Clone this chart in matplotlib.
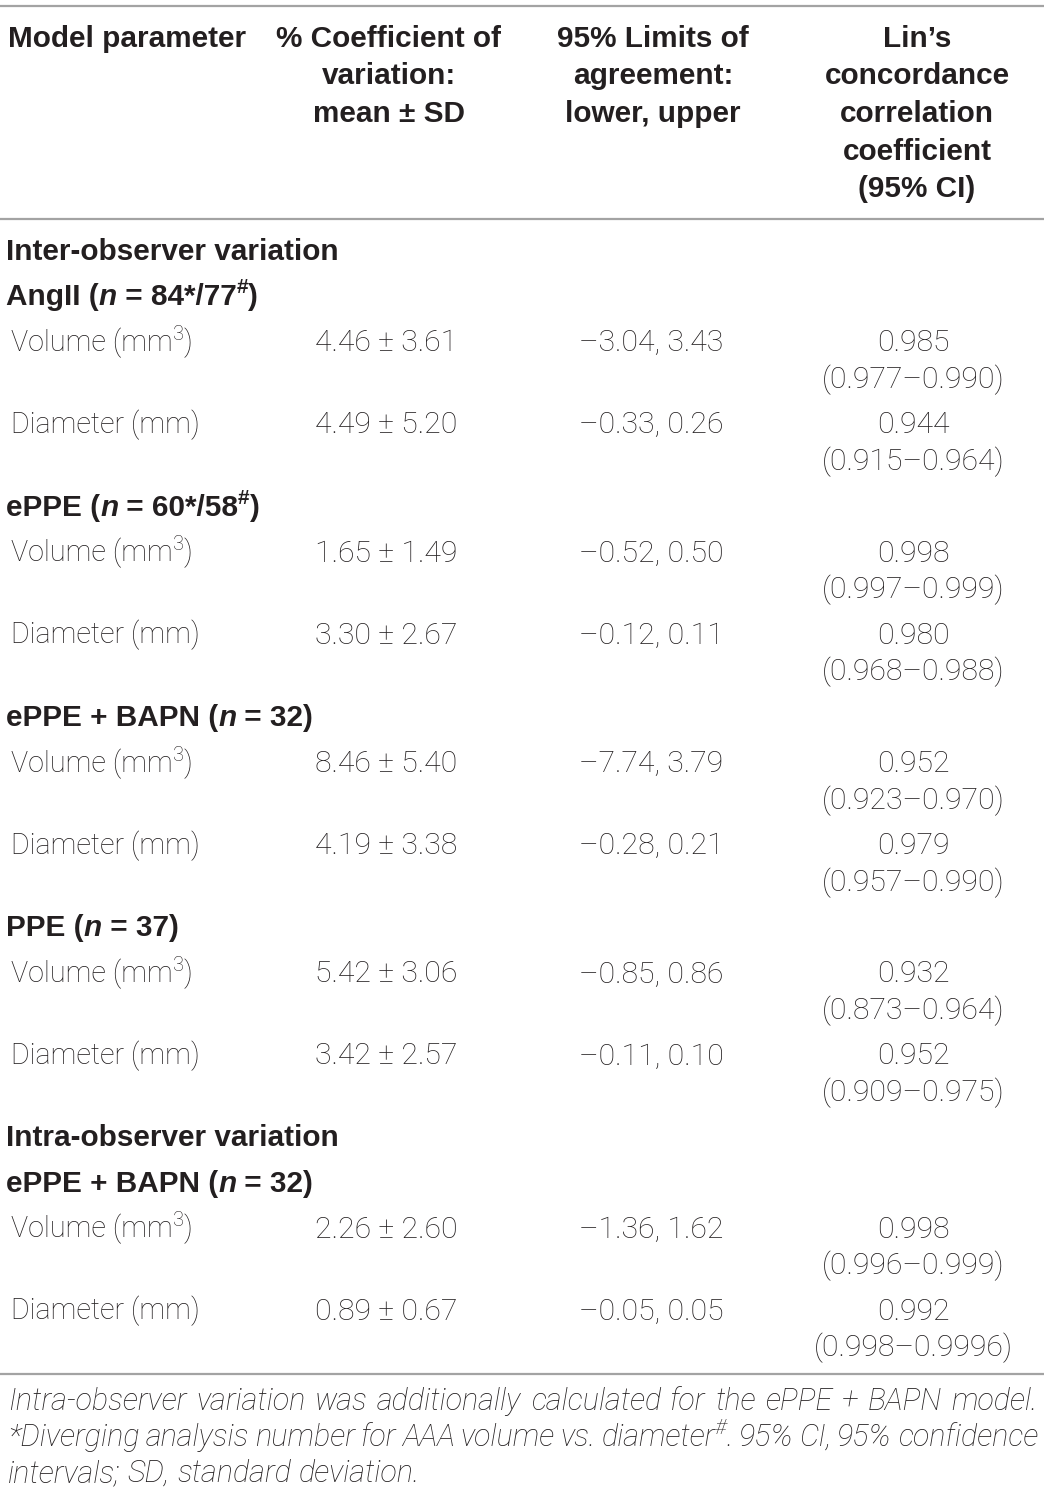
import matplotlib
matplotlib.use("Agg")
import matplotlib.pyplot as plt

# ---------------- data ----------------
col_headers = [
    ["Model parameter"],
    ["% Coefficient of", "variation:", "mean \u00b1 SD"],
    ["95% Limits of", "agreement:", "lower, upper"],
    ["Lin\u2019s", "concordance", "correlation", "coefficient", "(95% CI)"],
]
section_titles = ["Inter-observer variation", "Intra-observer variation"]
group_names = ["AngII", "ePPE", "ePPE + BAPN", "PPE", "ePPE + BAPN"]
group_n = ["84*/77", "60*/58", "32", "37", "32"]
group_n_sup = ["#", "#", "", "", ""]
group_section = [0, 0, 0, 0, 1]
param_names = ["Volume", "Diameter"]
param_units = ["mm", "mm"]
param_unit_sup = ["3", ""]
cv_mean = ["4.46", "4.49", "1.65", "3.30", "8.46", "4.19", "5.42", "3.42", "2.26", "0.89"]
cv_sd = ["3.61", "5.20", "1.49", "2.67", "5.40", "3.38", "3.06", "2.57", "2.60", "0.67"]
loa_lower = ["\u20133.04", "\u20130.33", "\u20130.52", "\u20130.12", "\u20137.74",
             "\u20130.28", "\u20130.85", "\u20130.11", "\u20131.36", "\u20130.05"]
loa_upper = ["3.43", "0.26", "0.50", "0.11", "3.79", "0.21", "0.86", "0.10", "1.62", "0.05"]
ccc = ["0.985", "0.944", "0.998", "0.980", "0.952", "0.979", "0.932", "0.952", "0.998", "0.992"]
ccc_lo = ["0.977", "0.915", "0.997", "0.968", "0.923", "0.957", "0.873", "0.909", "0.996", "0.998"]
ccc_hi = ["0.990", "0.964", "0.999", "0.988", "0.970", "0.990", "0.964", "0.975", "0.999", "0.9996"]
footnote_lines = [
    [("Intra-observer variation was additionally calculated for the ePPE + BAPN model.", False)],
    [("*Diverging analysis number for AAA volume vs. diameter", False), ("#", True),
     (". 95% CI, 95% confidence", False)],
    [("intervals; SD, standard deviation.", False)],
]

# ---------------- styling ----------------
W, H = 1044, 1493
FAM = ["Roboto", "Liberation Sans", "DejaVu Sans"]
BFAM = ["Liberation Sans", "DejaVu Sans"]
FSL = 20.6     # body labels (light)
FSN = 21.8     # numbers (light)
FSF = 22.0     # footnote (light italic)
FSB = 21.4     # bold headers
TXT = "#231f20"
RULE = "#a3a3a3"

fig = plt.figure(figsize=(W / 100, H / 100), dpi=100)
ax = fig.add_axes([0, 0, 1, 1])
ax.set_xlim(0, W)
ax.set_ylim(H, 0)
ax.axis("off")
renderer = fig.canvas.get_renderer()


def style_kw(bold=False, italic=False):
    if bold:
        return dict(family=BFAM, fontweight="bold", fontstyle="italic" if italic else "normal")
    return dict(family=FAM, fontweight="light", fontstyle="italic" if italic else "normal")


def width_of(t):
    return t.get_window_extent(renderer).width


def runs(x, y, parts, fs):
    """parts: list of (text, bold, italic, sup). Left-aligned at baseline y."""
    cx = x
    for text, bold, italic, sup in parts:
        if not text:
            continue
        size = fs * 0.70 if sup else fs
        yy = y - fs * 0.55 if sup else y
        t = ax.text(cx, yy, text, fontsize=size, color=TXT, ha="left", va="baseline",
                    **style_kw(bold, italic))
        cx += width_of(t)
    return cx


def centered(xc, y, text, bold=False):
    ax.text(xc, y, text, fontsize=FSB if bold else FSN, color=TXT, ha="center",
            va="baseline", **style_kw(bold))


# rules
for yr in (6, 219, 1374):
    ax.plot([0, W], [yr, yr], color=RULE, lw=1.6, solid_capstyle="butt")

# header
hdr_x = [8, 389, 653, 917]
for ci, lines in enumerate(col_headers):
    for li, line in enumerate(lines):
        y = 47 + li * 37.5
        if ci == 0:
            ax.text(hdr_x[0], y, line, fontsize=FSB, color=TXT, ha="left", va="baseline",
                    **style_kw(True))
        else:
            centered(hdr_x[ci], y, line, bold=True)

# body
col_c = [None, 386, 651, 913]
y = 260
cur_section = -1
row = 0
first = True
for gi, gname in enumerate(group_names):
    if group_section[gi] != cur_section:
        cur_section = group_section[gi]
        if not first:
            y += 82
        runs(6, y, [(section_titles[cur_section], True, False, False)], FSB)
        y += 45
    else:
        y += 82.5
    first = False
    runs(6, y, [(gname + " (", True, False, False), ("n", True, True, False),
                (" = " + group_n[gi], True, False, False), (group_n_sup[gi], True, False, True),
                (")", True, False, False)], FSB)
    for pi, pname in enumerate(param_names):
        y += 46 if pi == 0 else 82
        runs(11, y, [(pname + " (" + param_units[pi], False, False, False),
                     (param_unit_sup[pi], False, False, True), (")", False, False, False)], FSL)
        centered(col_c[1], y, cv_mean[row] + " \u00b1 " + cv_sd[row])
        centered(col_c[2], y, loa_lower[row] + ", " + loa_upper[row])
        centered(col_c[3], y, ccc[row])
        centered(col_c[3], y + 37, "(" + ccc_lo[row] + "\u2013" + ccc_hi[row] + ")")
        row += 1

# footnote (justified italic)
fx0, fx1 = 8, 1038
fy = [1410, 1446, 1482]


def measure(text, sup):
    size = FSF * 0.70 if sup else FSF
    t = ax.text(0, -100, text, fontsize=size, **style_kw(False, True))
    w = width_of(t)
    t.remove()
    return w


for li, line in enumerate(footnote_lines):
    tokens = []  # (text, sup, space_before)
    for ri, (txt, sup) in enumerate(line):
        words = txt.split(" ")
        for wi, wd in enumerate(words):
            if wd == "":
                continue
            sb = (wi > 0) or (ri > 0 and txt.startswith(" "))
            if ri == 0 and wi == 0:
                sb = False
            tokens.append((wd, sup, sb))
    widths = [measure(tk, s) for tk, s, _ in tokens]
    ngaps = sum(1 for _, _, sb in tokens if sb)
    sp = measure("a a", False) - measure("aa", False)
    if li < len(footnote_lines) - 1:
        gap = (fx1 - fx0 - sum(widths)) / max(ngaps, 1)
    else:
        gap = sp
    cx = fx0
    for (tk, sup, sb), w in zip(tokens, widths):
        if sb:
            cx += gap
        size = FSF * 0.70 if sup else FSF
        yy = fy[li] - FSF * 0.55 if sup else fy[li]
        ax.text(cx, yy, tk, fontsize=size, color=TXT, ha="left", va="baseline",
                **style_kw(False, True))
        cx += w

fig.savefig("out.png", dpi=100)
